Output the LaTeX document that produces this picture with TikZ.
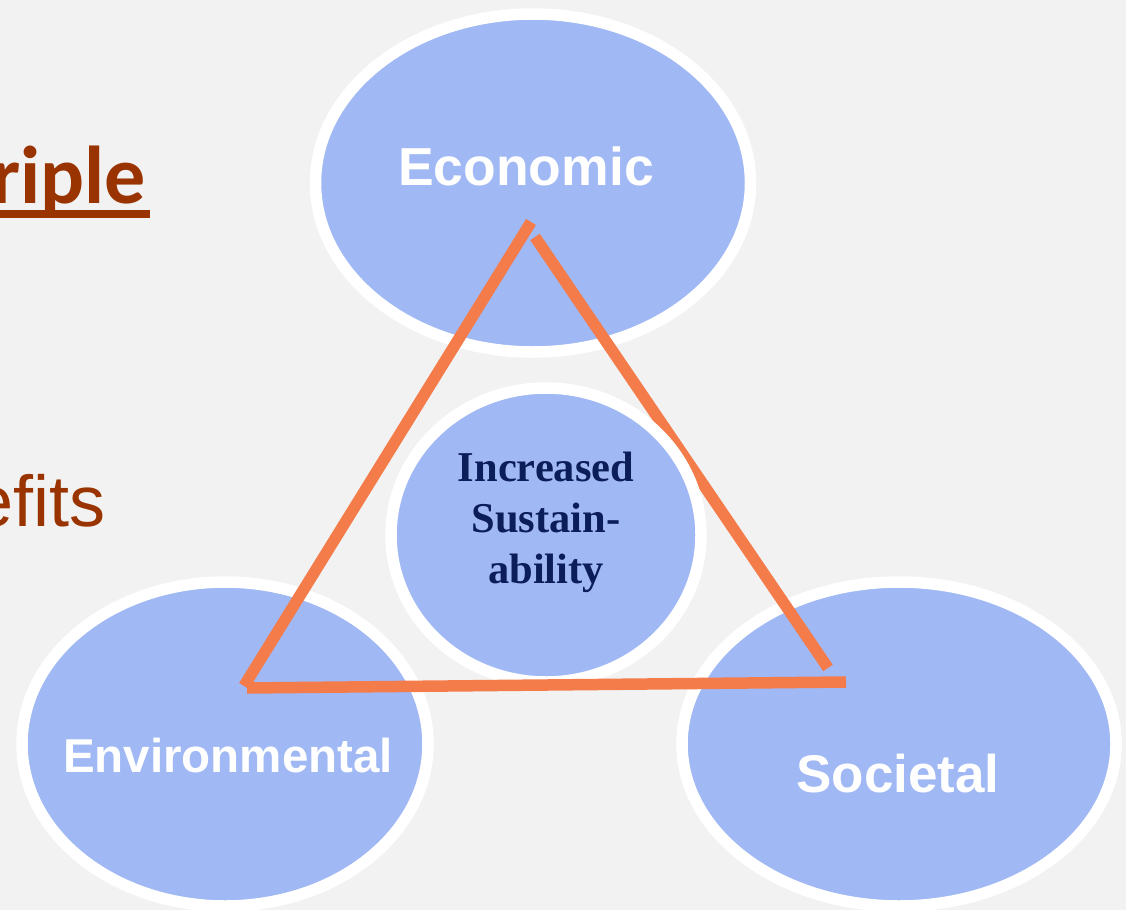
\documentclass[tikz,border=0pt]{standalone}
\usepackage{fontspec}
\setmainfont{Liberation Sans}
\newfontfamily\serifbold{Liberation Serif}
\newfontfamily\calibrifont{Carlito}
\definecolor{pagebg}{RGB}{242,242,242}
\definecolor{pillarfill}{RGB}{160,184,244}
\definecolor{triline}{RGB}{244,124,75}
\definecolor{rust}{RGB}{153,51,0}
\definecolor{navy}{RGB}{12,30,90}
\begin{document}
\begin{tikzpicture}[x=1pt,y=-1pt,
  pillar/.style={fill=pillarfill,draw=white,line width=11.5pt},
  pillartext/.style={text=white,font=\bfseries\fontsize{53.5}{60}\selectfont,anchor=base,inner sep=0pt},
  edge/.style={draw=triline,line width=11.5pt,line cap=butt},
  heading/.style={text=rust,anchor=base west,inner sep=0pt}]
  % page
  \fill[pagebg] (0,0) rectangle (1126,910);
  \useasboundingbox (0,0) rectangle (1126,910);
  \clip (0,0) rectangle (1126,910);

  % slide text running in from the left
  \node[heading,font=\calibrifont\bfseries\fontsize{82}{90}\selectfont] (hd) at (-9,203) {riple};
  \fill[rust] (hd.base west |- 0,210) rectangle (150,218);
  \node[heading,font=\fontsize{72}{84}\selectfont] (bn) at (-27,526) {efits};

  % the three pillars
  \path[pillar] (533,183) ellipse [x radius=217.5, y radius=169];
  \path[pillar] (225,744) ellipse [x radius=203, y radius=162];
  \path[pillar] (899,744) ellipse [x radius=217, y radius=162];
  \node[pillartext] (eco) at (526,185) {Economic};
  \node[pillartext,font=\bfseries\fontsize{47.5}{54}\selectfont] (env) at (228,772) {Environmental};
  \node[pillartext,font=\bfseries\fontsize{53}{60}\selectfont] (soc) at (898,792) {Societal};

  % triangle corners
  \coordinate (tl) at (531,222);
  \coordinate (tr) at (535,237);
  \coordinate (bl) at (244,686);
  \coordinate (blb) at (247,688);
  \coordinate (rb) at (828,668);
  \coordinate (br) at (846,682);

  \draw[edge] (tr) -- (rb);
  \draw[edge] (bl) -- (tl);

  % centre
  \path[pillar] (546,535) ellipse [x radius=155, y radius=147];
  \draw[edge] (blb) -- (br);
  \node[text=navy,font=\serifbold\bfseries\fontsize{42.5}{51}\selectfont,align=center,anchor=base,inner sep=0pt] (ctr) at (546,583)
    {Increased\\Sustain-\\ability};
\end{tikzpicture}
\end{document}
